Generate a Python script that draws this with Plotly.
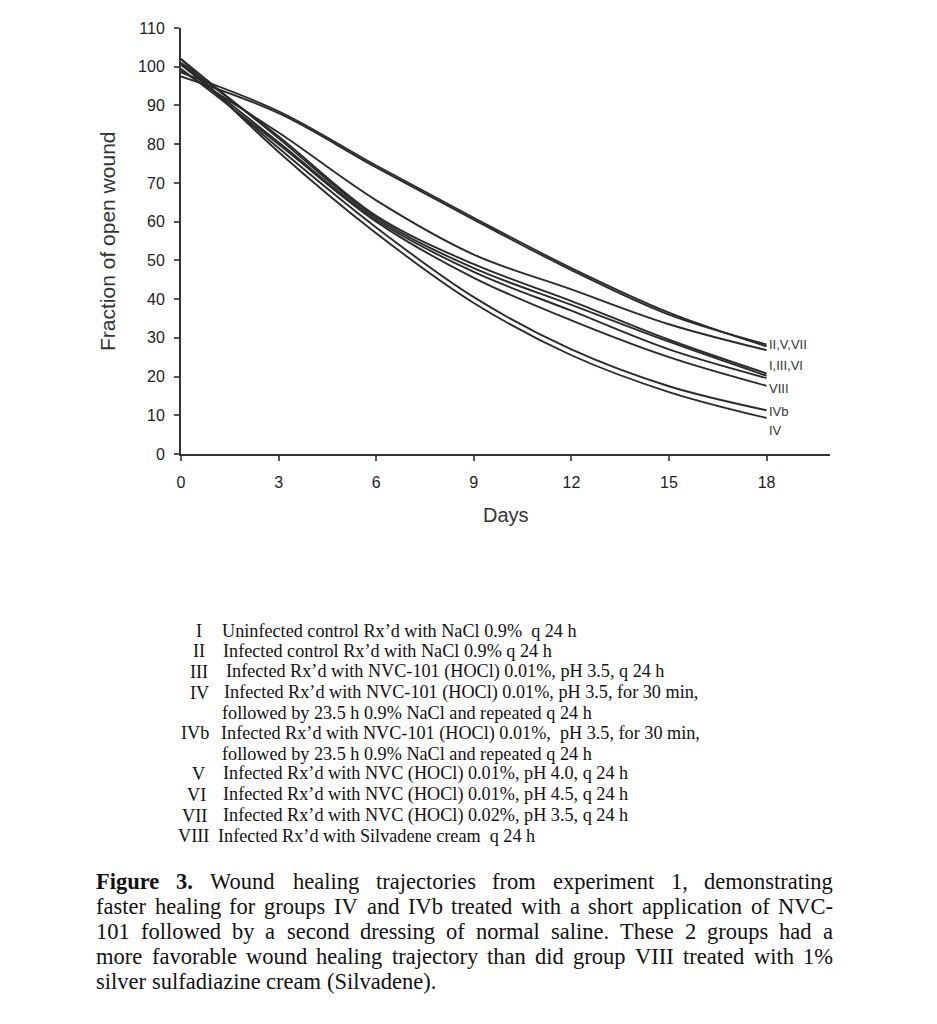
import plotly.graph_objects as go

# ---------------- data ----------------
days = [0, 3, 6, 9, 12, 15, 18]
group_I = [101.0, 82.0, 61.5, 49.0, 39.5, 29.5, 20.8]
group_II = [97.5, 88.0, 74.0, 60.5, 47.5, 36.0, 28.3]
group_III = [102.0, 81.5, 61.0, 48.0, 38.5, 29.0, 20.2]
group_IV = [102.0, 78.0, 57.0, 39.0, 25.5, 16.0, 9.3]
group_IVb = [101.0, 79.0, 58.5, 40.5, 27.0, 17.5, 11.3]
group_V = [98.5, 88.5, 74.5, 61.0, 48.0, 36.5, 27.8]
group_VI = [100.5, 80.5, 60.5, 47.0, 37.0, 27.0, 19.6]
group_VII = [99.0, 83.0, 65.5, 51.5, 42.5, 33.5, 26.8]
group_VIII = [99.5, 80.0, 60.0, 45.5, 34.5, 25.0, 17.6]

series_names = ["I", "II", "III", "IV", "IVb", "V", "VI", "VII", "VIII"]
series_values = [group_I, group_II, group_III, group_IV, group_IVb,
                 group_V, group_VI, group_VII, group_VIII]

end_labels = ["II,V,VII", "I,III,VI", "VIII", "IVb", "IV"]
end_label_values = [28.4, 22.8, 16.9, 11.0, 6.1]

x_ticks = [0, 3, 6, 9, 12, 15, 18]
y_ticks = list(range(0, 111, 10))

legend_numerals = ["I", "II", "III", "IV", "", "IVb", "", "V", "VI", "VII", "VIII"]
legend_texts = [
    "Uninfected control Rx\u2019d with NaCl 0.9%\u00a0\u00a0q 24 h",
    "Infected control Rx\u2019d with NaCl 0.9% q 24 h",
    "Infected Rx\u2019d with NVC-101 (HOCl) 0.01%, pH 3.5, q 24 h",
    "Infected Rx\u2019d with NVC-101 (HOCl) 0.01%, pH 3.5, for 30 min,",
    "followed by 23.5 h 0.9% NaCl and repeated q 24 h",
    "Infected Rx\u2019d with NVC-101 (HOCl) 0.01%,\u00a0\u00a0pH 3.5, for 30 min,",
    "followed by 23.5 h 0.9% NaCl and repeated q 24 h",
    "Infected Rx\u2019d with NVC (HOCl) 0.01%, pH 4.0, q 24 h",
    "Infected Rx\u2019d with NVC (HOCl) 0.01%, pH 4.5, q 24 h",
    "Infected Rx\u2019d with NVC (HOCl) 0.02%, pH 3.5, q 24 h",
    "Infected Rx\u2019d with Silvadene cream\u00a0\u00a0q 24 h",
]

caption_lines = [
    "Figure 3. Wound healing trajectories from experiment 1, demonstrating",
    "faster healing for groups IV and IVb treated with a short application of NVC-",
    "101 followed by a second dressing of normal saline. These 2 groups had a",
    "more favorable wound healing trajectory than did group VIII treated with 1%",
    "silver sulfadiazine cream (Silvadene).",
]

# ---------------- layout geometry ----------------
OFF = 8  # page body margin
W, H = 937, 1024
L, T = 181 - OFF, 24 - OFF
PW, PH = 649, 430
R, B = W - L - PW, H - T - PH
AX_BOTTOM = 454  # screen y of the x axis


def pxx(x):
    return (x - 181) / PW


def pxy(y):
    return (AX_BOTTOM - y) / PH


INK = "#2b2b2b"
fig = go.Figure()
for name, vals in zip(series_names, series_values):
    fig.add_trace(go.Scatter(
        x=days, y=vals, mode="lines", name=name, showlegend=False,
        line=dict(color=INK, width=1.9, shape="spline", smoothing=1.0),
        hoverinfo="x+y+name"))

ann = []
for lab, v in zip(end_labels, end_label_values):
    ann.append(dict(x=18.0, y=v, xref="x", yref="y", text=lab, showarrow=False,
                    xanchor="left", yanchor="middle",
                    font=dict(family="Liberation Sans Narrow, Liberation Sans, Arial", size=13, color="#333")))

# axis titles
ann.append(dict(x=pxx(506), y=pxy(516), xref="paper", yref="paper", text="Days",
                showarrow=False, xanchor="center", yanchor="middle",
                font=dict(family="Liberation Sans, Arial", size=20, color="#333")))
ann.append(dict(x=pxx(108), y=pxy(240), xref="paper", yref="paper",
                text="Fraction of open wound", textangle=-90,
                showarrow=False, xanchor="center", yanchor="middle",
                font=dict(family="Liberation Sans, Arial", size=21, color="#333")))

# legend block
SERIF = "Liberation Serif, Times New Roman, serif"
LEG = 18.2
leg_y = [633, 653, 674, 695, 715, 736, 757, 777, 798, 819, 840]
num_right = [None, 207, 210, 211, None, 211, None, 207, 208, 209, 211]
text_x = [220, 221, 224, 222, 220, 219, 220, 221, 221, 221, 216]
for i, (num, txt) in enumerate(zip(legend_numerals, legend_texts)):
    yy = pxy(leg_y[i])
    if num:
        if num == "I":
            ann.append(dict(x=pxx(199), y=yy, xref="paper", yref="paper", text=num,
                            showarrow=False, xanchor="center", yanchor="middle",
                            font=dict(family=SERIF, size=LEG, color="#111")))
        else:
            ann.append(dict(x=pxx(num_right[i]), y=yy, xref="paper", yref="paper", text=num,
                            showarrow=False, xanchor="right", yanchor="middle",
                            font=dict(family=SERIF, size=LEG, color="#111")))
    ann.append(dict(x=pxx(text_x[i]), y=yy, xref="paper", yref="paper", text=txt,
                    showarrow=False, xanchor="left", yanchor="middle",
                    font=dict(family=SERIF, size=LEG, color="#111")))

# caption with justified lines (Times metrics)
TW = {' ': 250, 'a': 444, 'b': 500, 'c': 444, 'd': 500, 'e': 444, 'f': 333, 'g': 500, 'h': 500,
      'i': 278, 'j': 278, 'k': 500, 'l': 278, 'm': 778, 'n': 500, 'o': 500, 'p': 500, 'q': 500,
      'r': 333, 's': 389, 't': 278, 'u': 500, 'v': 500, 'w': 722, 'x': 500, 'y': 500, 'z': 444,
      '.': 250, ',': 250, '-': 333, '(': 333, ')': 333, '%': 833,
      'A': 722, 'B': 667, 'C': 667, 'D': 722, 'E': 611, 'F': 556, 'G': 722, 'H': 722, 'I': 333,
      'J': 389, 'K': 722, 'L': 611, 'M': 889, 'N': 722, 'O': 722, 'P': 556, 'Q': 722, 'R': 667,
      'S': 556, 'T': 611, 'U': 722, 'V': 722, 'W': 944, 'X': 722, 'Y': 722, 'Z': 611}
TWB = dict(TW)
TWB.update({'F': 611, 'r': 444, 'u': 556, 'g': 500})
CAP = 22.5


def width(s, bold=False):
    t = TWB if bold else TW
    return sum(t.get(c, 500) for c in s) * CAP / 1000.0


cap_y = [886, 911, 936, 961, 986]
x0, x1 = 95, 832
for li, line in enumerate(caption_lines):
    words = line.split(" ")
    bolds = [False] * len(words)
    if li == 0:
        bolds = [True, True] + [False] * (len(words) - 2)
    widths = [width(w, b) for w, b in zip(words, bolds)]
    natural_gap = width(" ")
    if li < len(caption_lines) - 1:
        gap = (x1 - x0 - sum(widths)) / (len(words) - 1)
    else:
        gap = natural_gap
    x = x0
    for w, b, wd in zip(words, bolds, widths):
        ann.append(dict(x=pxx(x), y=pxy(cap_y[li]), xref="paper", yref="paper",
                        text=("<b>%s</b>" % w) if b else w, showarrow=False,
                        xanchor="left", yanchor="middle", borderpad=0,
                        font=dict(family=SERIF, size=CAP, color="#111")))
        x += wd + gap

TICKFONT = dict(family="Liberation Sans, Arial", size=16, color="#222")
fig.update_layout(
    width=W, height=H, margin=dict(l=L, r=R, t=T, b=B, pad=0),
    paper_bgcolor="white", plot_bgcolor="white",
    annotations=ann, showlegend=False,
    xaxis=dict(range=[0, 19.95], tickvals=x_ticks, ticktext=[str(t) for t in x_ticks],
               showgrid=False, zeroline=False, showline=True, linecolor="#333", linewidth=2,
               ticks="outside", ticklen=5, tickwidth=1.5, tickcolor="#555",
               ticklabelstandoff=8, tickfont=TICKFONT),
    yaxis=dict(range=[0, 110], tickvals=y_ticks, ticktext=[str(t) for t in y_ticks],
               showgrid=False, zeroline=False, showline=True, linecolor="#333", linewidth=2,
               ticks="outside", ticklen=5, tickwidth=1.5, tickcolor="#555",
               ticklabelstandoff=6, tickfont=TICKFONT),
)

fig.write_html("out.html")
